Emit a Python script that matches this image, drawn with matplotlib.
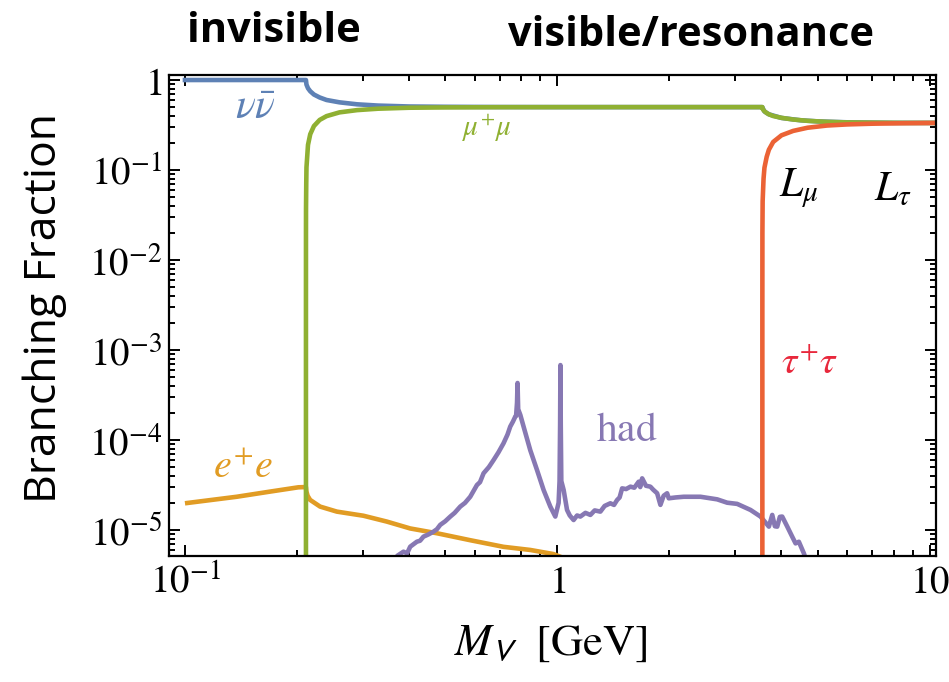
import matplotlib
matplotlib.use("Agg")
import matplotlib.pyplot as plt
from matplotlib.ticker import FixedLocator, FixedFormatter, LogLocator, NullFormatter

plt.rcParams['mathtext.fontset'] = 'stix'
plt.rcParams['font.family'] = ['DejaVu Sans']

# Branching fractions (mass in GeV)
nu_x = [0.1, 0.15, 0.2, 0.211, 0.2113, 0.212, 0.214, 0.217, 0.222, 0.23, 0.24,
        0.26, 0.29, 0.33, 0.4, 0.5, 0.7, 1.0, 2.0, 3.55, 3.6, 3.7, 4.0, 4.5,
        5.0, 6.0, 8.0, 10.2]
nu_y = [1.0, 1.0, 1.0, 1.0, 1.0, 0.89, 0.81, 0.75, 0.69, 0.64, 0.60,
        0.565, 0.537, 0.52, 0.508, 0.504, 0.501, 0.5, 0.5, 0.5, 0.447, 0.416, 0.379, 0.357,
        0.347, 0.339, 0.334, 0.3335]

mu_x = [0.21132, 0.211325, 0.21135, 0.2114, 0.2117, 0.212, 0.214, 0.217, 0.222,
        0.23, 0.24, 0.26, 0.29, 0.33, 0.4, 0.5, 0.7, 1.0, 2.0, 3.5537, 3.56,
        3.58, 3.6, 3.65, 3.7, 3.8, 4.0, 4.3, 4.7, 5.3, 6.0, 7.0, 8.5, 10.2]
mu_y = [1e-7, 0.004, 0.02, 0.037, 0.07, 0.107, 0.19, 0.25, 0.308,
        0.36, 0.397, 0.437, 0.463, 0.48, 0.492, 0.496, 0.499, 0.4997, 0.5, 0.5, 0.478,
        0.462, 0.45, 0.43, 0.416, 0.398, 0.38, 0.364, 0.352, 0.343, 0.338, 0.336, 0.334, 0.3335]

tau_x = [3.5537, 3.5538, 3.555, 3.56, 3.58, 3.6, 3.65, 3.7, 3.8, 4.0, 4.3,
         4.7, 5.3, 6.0, 7.0, 8.5, 10.2]
tau_y = [1e-7, 0.003, 0.02, 0.045, 0.08, 0.106, 0.14, 0.168, 0.205, 0.243, 0.272,
         0.295, 0.312, 0.321, 0.327, 0.331, 0.3333]

ee_x = [0.1, 0.1377, 0.1692, 0.2016, 0.2113, 0.2118, 0.2135, 0.2168, 0.2306,
        0.2558, 0.3015, 0.3484, 0.4026, 0.475, 0.5835, 0.717, 0.846, 0.977, 1.05]
ee_y = [1.98e-5, 2.34e-5, 2.67e-5, 2.98e-5, 3.0e-5, 2.7e-5, 2.4e-5, 2.16e-5, 1.82e-5,
        1.60e-5, 1.44e-5, 1.24e-5, 1.04e-5, 9.2e-6, 7.7e-6, 6.5e-6, 6.0e-6, 5.4e-6, 4.8e-6]

had_x = [0.3745, 0.3862, 0.395, 0.4026, 0.41, 0.4196, 0.428, 0.437, 0.45, 0.465,
         0.475, 0.4848, 0.50, 0.5159, 0.53, 0.5487, 0.565, 0.5836, 0.6084, 0.62,
         0.6338, 0.655, 0.6745, 0.695, 0.7171, 0.735, 0.7475, 0.76, 0.7712, 0.775,
         0.7795, 0.782, 0.785, 0.7955, 0.8117, 0.846, 0.882, 0.9188, 0.9576, 0.9877,
         1.008, 1.014, 1.0175, 1.0195, 1.0215, 1.025, 1.04, 1.062, 1.08, 1.106,
         1.13, 1.153, 1.19, 1.227, 1.26, 1.305, 1.34, 1.388, 1.42, 1.447,
         1.47, 1.493, 1.53, 1.572, 1.61, 1.654, 1.67, 1.69, 1.73, 1.778,
         1.81, 1.854, 1.892, 1.93, 1.972, 1.992, 2.08, 2.186, 2.424, 2.688,
         2.859, 3.041, 3.303, 3.513, 3.60, 3.70, 3.778, 3.84, 3.896, 3.96,
         4.018, 4.146, 4.276, 4.364, 4.454, 4.594, 4.67]
had_y = [5.27e-6, 5.74e-6, 5.5e-6, 6.52e-6, 6.9e-6, 7.41e-6, 7.6e-6, 8.43e-6, 8.9e-6, 9.58e-6,
         1.02e-5, 1.14e-5, 1.25e-5, 1.41e-5, 1.55e-5, 1.82e-5, 2.0e-5, 2.34e-5, 3.16e-5, 3.4e-5,
         4.27e-5, 5.0e-5, 6.0e-5, 7.3e-5, 9.2e-5, 1.15e-4, 1.41e-4, 1.6e-4, 1.82e-4, 1.85e-4,
         2.6e-4, 4.3e-4, 2.2e-4, 1.9e-4, 1.41e-4, 7.7e-5, 4.64e-5, 2.78e-5, 1.82e-5, 1.41e-5,
         2.0e-5, 3.5e-5, 1.5e-4, 6.8e-4, 1.5e-4, 3.5e-5, 2.78e-5, 1.67e-5, 1.45e-5, 1.29e-5,
         1.45e-5, 1.41e-5, 1.55e-5, 1.47e-5, 1.65e-5, 1.60e-5, 1.85e-5, 1.98e-5, 1.9e-5, 2.15e-5,
         2.3e-5, 2.9e-5, 2.85e-5, 3.03e-5, 2.95e-5, 3.44e-5, 3.0e-5, 3.75e-5, 3.1e-5, 3.03e-5,
         2.8e-5, 2.56e-5, 1.9e-5, 2.4e-5, 2.56e-5, 2.25e-5, 2.3e-5, 2.34e-5, 2.34e-5, 2.19e-5,
         2.01e-5, 1.95e-5, 1.67e-5, 1.41e-5, 1.25e-5, 1.09e-5, 1.47e-5, 1.1e-5, 1.09e-5, 1.4e-5,
         1.41e-5, 1.09e-5, 8.4e-6, 7.1e-6, 7.4e-6, 5.5e-6, 4.5e-6]

x_ticks = [0.1, 1, 10]
x_labels = [r'$10^{-1}$', r'$1$', r'$10$']
y_ticks = [1e-5, 1e-4, 1e-3, 1e-2, 1e-1, 1]
y_labels = [r'$10^{-5}$', r'$10^{-4}$', r'$10^{-3}$', r'$10^{-2}$', r'$10^{-1}$', r'$1$']

c_blue = '#5E81B5'
c_orange = '#E19C24'
c_green = '#8FB032'
c_red = '#EB6235'
c_purple = '#8778B3'

fig = plt.figure(figsize=(9.49, 6.82), dpi=100)
ax = fig.add_axes([169 / 949, 1 - 556 / 682, (936 - 169) / 949, (556 - 75) / 682])

lw = 3.3
ax.plot(ee_x, ee_y, color=c_orange, lw=lw, solid_capstyle='butt')
ax.plot(had_x, had_y, color=c_purple, lw=lw, solid_joinstyle='round')
ax.plot(nu_x, nu_y, color=c_blue, lw=lw)
ax.plot(mu_x, mu_y, color=c_green, lw=lw)
ax.plot(tau_x, tau_y, color=c_red, lw=lw)

ax.set_xscale('log')
ax.set_yscale('log')
ax.set_xlim(0.0906, 10.4)
ax.set_ylim(5.14e-6, 1.137)

ax.xaxis.set_major_locator(FixedLocator(x_ticks))
ax.xaxis.set_major_formatter(FixedFormatter(x_labels))
ax.yaxis.set_major_locator(FixedLocator(y_ticks))
ax.yaxis.set_major_formatter(FixedFormatter(y_labels))
ax.xaxis.set_minor_locator(LogLocator(base=10, subs=range(2, 10)))
ax.yaxis.set_minor_locator(LogLocator(base=10, subs=range(2, 10)))
ax.xaxis.set_minor_formatter(NullFormatter())
ax.yaxis.set_minor_formatter(NullFormatter())

ax.tick_params(which='both', direction='in', top=True, right=True, width=1.4)
ax.tick_params(which='major', length=8, labelsize=28, pad=5)
ax.tick_params(which='minor', length=4.5)
for s in ax.spines.values():
    s.set_linewidth(1.6)

# curve labels
ax.text(0.155, 0.5, r'$\nu\bar{\nu}$', color=c_blue, fontsize=30, ha='center', va='center')
ax.text(0.648, 0.29, r'$\mu^{+}\mu$', color=c_green, fontsize=21, ha='center', va='center')
ax.text(4.45, 0.063, r'$L_{\mu}$', color='black', fontsize=30, ha='center', va='center')
ax.text(7.95, 0.063, r'$L_{\tau}$', color='black', fontsize=30, ha='center', va='center')
ax.text(4.75, 7.4e-4, r'$\tau^{+}\tau$', color='#E8283C', fontsize=28, ha='center', va='center')
ax.text(1.54, 1.33e-4, r'$\mathrm{had}$', color=c_purple, fontsize=30, ha='center', va='center')
ax.text(0.143, 5.0e-5, r'$e^{+}e$', color=c_orange, fontsize=29, ha='center', va='center')

# region titles and axis labels
fig.text(274 / 949, 1 - 32 / 682, 'invisible', fontsize=30, fontweight='bold',
         family='Open Sans', ha='center', va='center')
fig.text(691 / 949, 1 - 35 / 682, 'visible/resonance', fontsize=30, fontweight='bold',
         family='Open Sans', ha='center', va='center')
fig.text(45 / 949, 1 - 308 / 682, 'Branching Fraction', fontsize=32, family='Open Sans',
         rotation=90, ha='center', va='center')
fig.text(551 / 949, 1 - 642 / 682, r'$M_{\mathsf{V}}\ \ [\mathrm{GeV}]$', fontsize=32,
         ha='center', va='center')

fig.savefig('out.png', dpi=100)
